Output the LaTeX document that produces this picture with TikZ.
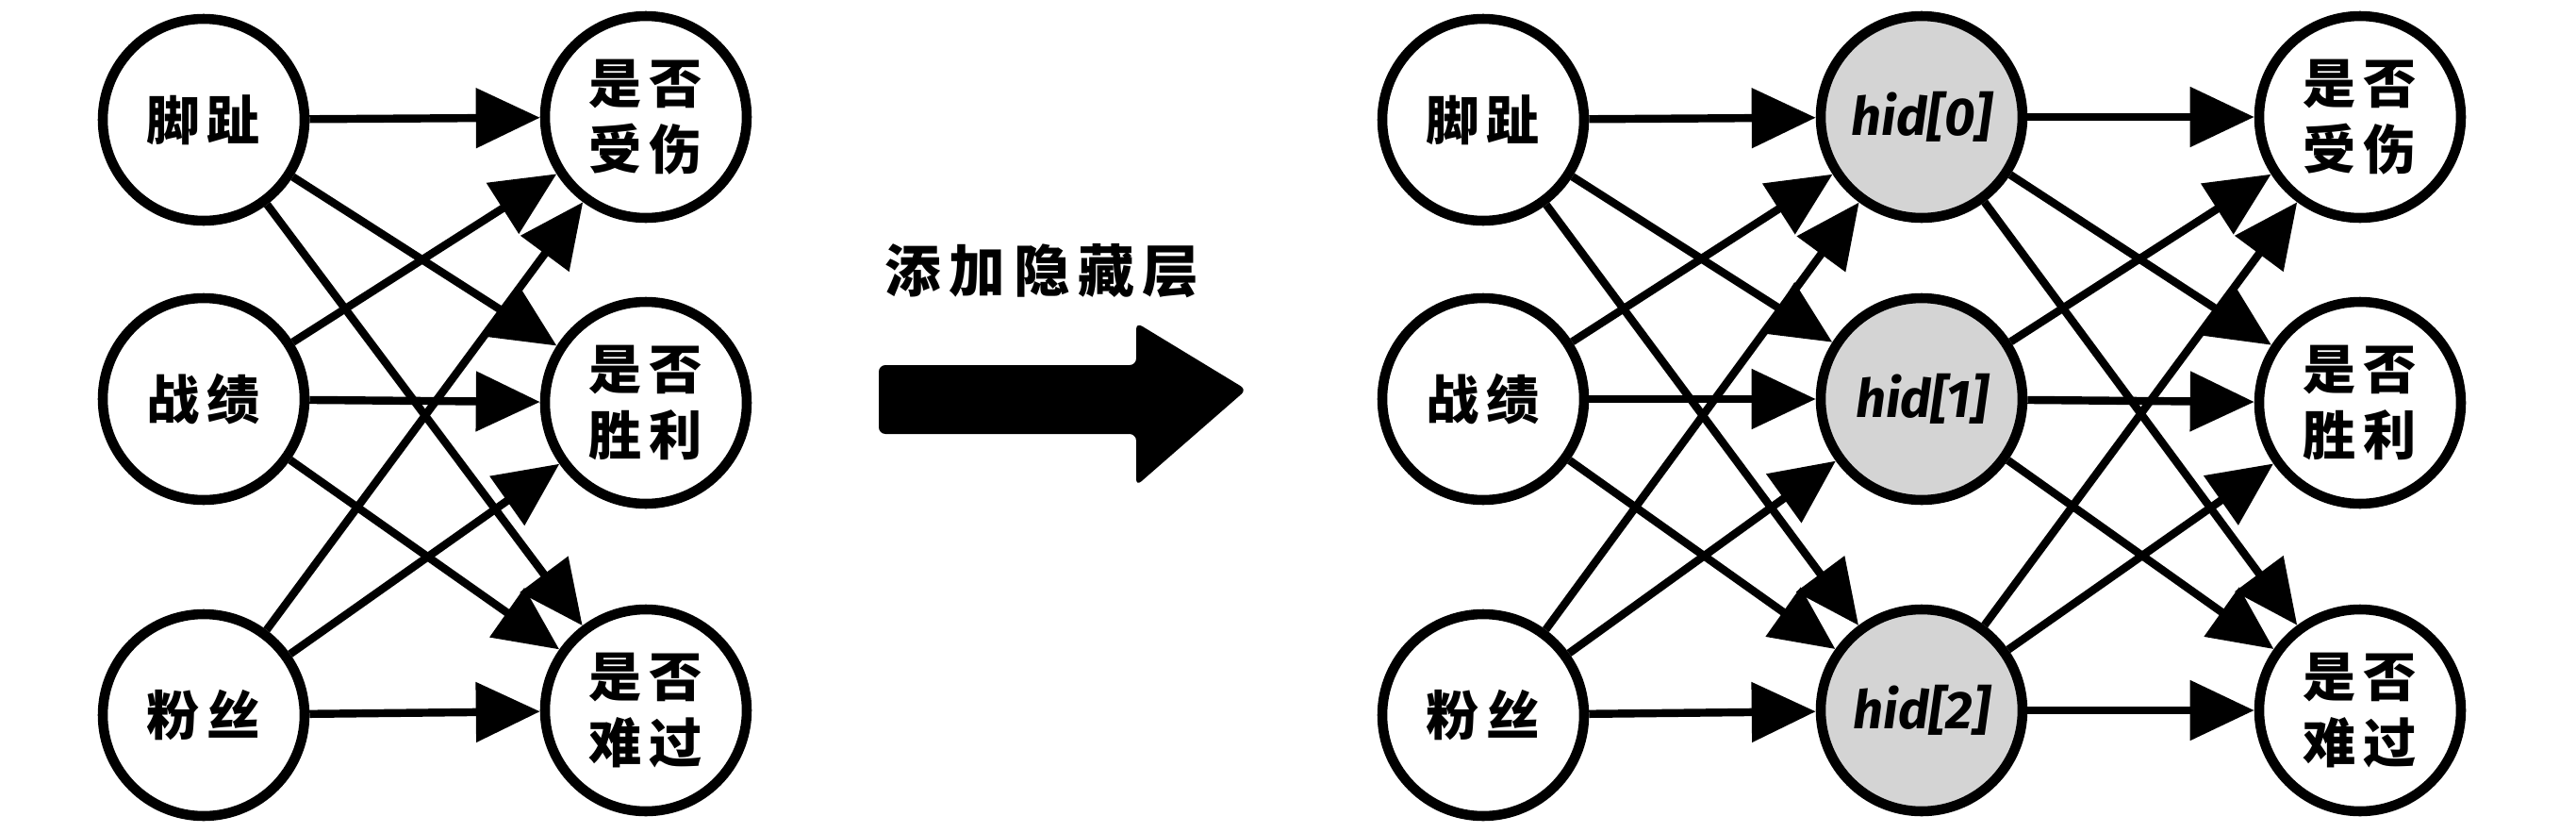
\documentclass[tikz,border=0pt]{standalone}
\usepackage{fontspec}
\usepackage{tikz}
\usetikzlibrary{arrows.meta}
\newfontfamily\cjk[LetterSpace=14]{Noto Sans CJK SC}
\newfontfamily\hidfont{Fira Sans}

\begin{document}
\begin{tikzpicture}[x=1cm,y=1cm,
  unit/.style={circle,draw,line width=3pt,minimum size=2.14cm,inner sep=0pt,
    font=\cjk\bfseries\fontsize{16}{20}\selectfont,align=center},
  hidden/.style={unit,fill=black!17,font=\hidfont\bfseries\itshape\fontsize{16}{19}\selectfont},
  edge/.style={line width=2.4pt,-{Triangle[length=6.8mm,width=6.2mm]}}]
\useasboundingbox (0,0) rectangle (27.32,8.82);

% before: inputs and outputs
\node[unit] (lin1) at (2.16,7.55) {脚趾};
\node[unit] (lin2) at (2.16,4.59) {战绩};
\node[unit] (lin3) at (2.16,1.24) {粉丝};

\node[unit] (lout1) at (6.85,7.58) {是否\\受伤};
\node[unit] (lout2) at (6.85,4.55) {是否\\胜利};
\node[unit] (lout3) at (6.85,1.29) {是否\\难过};

\draw[edge] (lin1) -- (lout1);
\draw[edge] (lin1) -- (lout2);
\draw[edge] (lin1) -- (lout3);
\draw[edge] (lin2) -- (lout1);
\draw[edge] (lin2) -- (lout2);
\draw[edge] (lin2) -- (lout3);
\draw[edge] (lin3) -- (lout1);
\draw[edge] (lin3) -- (lout2);
\draw[edge] (lin3) -- (lout3);

% big arrow
\node[font=\cjk\bfseries\fontsize{17}{20}\selectfont] (addlbl) at (11.05,5.95) {添加隐藏层};
\fill[rounded corners=2pt] (9.32,4.95) -- (12.05,4.95) -- (12.05,5.40) -- (13.22,4.69)
  -- (12.05,3.67) -- (12.05,4.22) -- (9.32,4.22) -- cycle;

% after: inputs, hidden layer, outputs
\node[unit] (rin1) at (15.73,7.55) {脚趾};
\node[unit] (rin2) at (15.73,4.59) {战绩};
\node[unit] (rin3) at (15.73,1.24) {粉丝};

\node[hidden] (hid1) at (20.38,7.58) {hid[0]};
\node[hidden] (hid2) at (20.38,4.59) {hid[1]};
\node[hidden] (hid3) at (20.38,1.29) {hid[2]};

\node[unit] (rout1) at (25.03,7.58) {是否\\受伤};
\node[unit] (rout2) at (25.03,4.55) {是否\\胜利};
\node[unit] (rout3) at (25.03,1.29) {是否\\难过};

\draw[edge] (rin1) -- (hid1);
\draw[edge] (rin1) -- (hid2);
\draw[edge] (rin1) -- (hid3);
\draw[edge] (rin2) -- (hid1);
\draw[edge] (rin2) -- (hid2);
\draw[edge] (rin2) -- (hid3);
\draw[edge] (rin3) -- (hid1);
\draw[edge] (rin3) -- (hid2);
\draw[edge] (rin3) -- (hid3);

\draw[edge] (hid1) -- (rout1);
\draw[edge] (hid1) -- (rout2);
\draw[edge] (hid1) -- (rout3);
\draw[edge] (hid2) -- (rout1);
\draw[edge] (hid2) -- (rout2);
\draw[edge] (hid2) -- (rout3);
\draw[edge] (hid3) -- (rout1);
\draw[edge] (hid3) -- (rout2);
\draw[edge] (hid3) -- (rout3);
\end{tikzpicture}
\end{document}
